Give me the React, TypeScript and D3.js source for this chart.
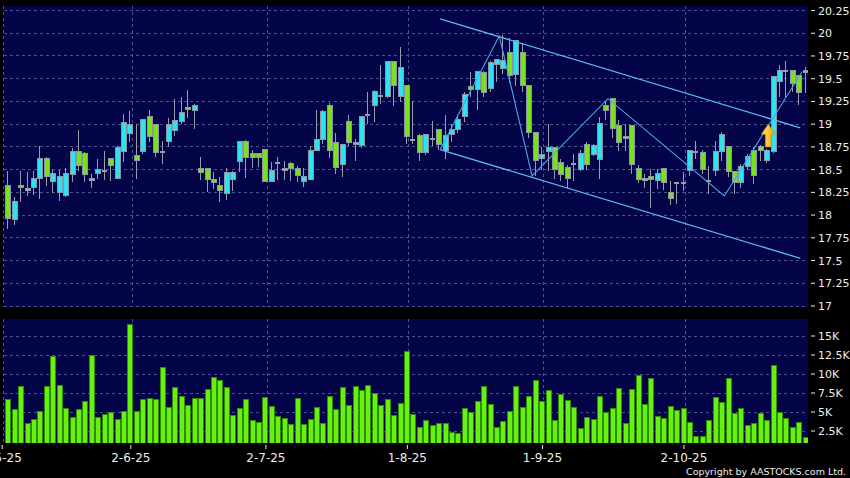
import React from 'react';
import * as d3 from 'd3';

// ---- data ----
const OPEN = [
  18.32, 17.95, 18.32, 18.27, 18.30, 18.40, 18.62, 18.37, 18.25, 18.22,
  18.45, 18.70, 18.68, 18.40, 18.46, 18.49, 18.62, 18.40, 18.70, 18.90,
  18.66, 18.70, 19.08, 19.00, 18.69, 18.81, 18.93, 19.03, 19.18, 19.155,
  18.515, 18.515, 18.39, 18.32, 18.24, 18.39, 18.59, 18.81, 18.68, 18.68,
  18.72, 18.37, 18.57, 18.49, 18.57, 18.51, 18.37, 18.39, 18.71, 18.835,
  19.20, 18.80, 18.56, 19.03, 18.80, 18.76, 19.10, 19.20, 19.31, 19.30,
  19.69, 19.30, 19.43, 18.83, 18.88, 18.69, 18.84, 18.94, 18.71, 18.89,
  18.94, 19.08, 19.41, 19.38, 19.57, 19.39, 19.66, 19.61, 19.79, 19.55,
  19.79, 19.43, 18.91, 18.62, 18.695, 18.746, 18.58, 18.52, 18.56, 18.50,
  18.78, 18.67, 18.61, 19.20, 19.28, 18.98, 18.86, 18.98, 18.51, 18.40,
  18.42, 18.38, 18.51, 18.25, 18.35, 18.35, 18.49, 18.695, 18.69, 18.38,
  18.49, 18.70, 18.75, 18.475, 18.36, 18.53, 18.71, 18.75, 18.60, 18.70,
  19.47, 19.59, 19.59, 19.53, 19.59,
];
const HIGH = [
  18.48, 18.20, 18.48, 18.47, 18.48, 18.76, 18.64, 18.50, 18.50, 18.52,
  18.74, 18.94, 18.69, 18.45, 18.62, 18.70, 18.62, 18.76, 19.11, 19.14,
  19.00, 19.05, 19.16, 19.00, 18.81, 19.07, 19.28, 19.30, 19.375, 19.22,
  18.64, 18.515, 18.47, 18.42, 18.52, 18.49, 18.81, 18.83, 18.72, 18.68,
  18.72, 18.58, 18.64, 18.60, 18.58, 18.54, 18.52, 18.76, 19.16, 19.16,
  19.23, 18.90, 18.78, 19.10, 18.84, 19.09, 19.35, 19.38, 19.65, 19.69,
  19.69, 19.85, 19.43, 19.25, 18.89, 18.89, 19.03, 18.94, 19.10, 19.00,
  19.10, 19.35, 19.57, 19.58, 19.58, 19.69, 19.72, 19.98, 19.945, 19.93,
  19.89, 19.43, 18.91, 18.75, 19.00, 18.75, 18.62, 18.55, 18.67, 18.72,
  18.80, 18.78, 19.08, 19.25, 19.28, 19.05, 19.00, 18.98, 18.55, 18.45,
  18.51, 18.51, 18.51, 18.38, 18.36, 18.47, 18.71, 18.82, 18.72, 18.54,
  18.82, 18.91, 18.75, 18.49, 18.56, 18.67, 18.75, 18.77, 18.73, 19.52,
  19.65, 19.69, 19.60, 19.53, 19.63,
];
const LOW = [
  17.85, 17.89, 18.14, 18.21, 18.22, 18.18, 18.32, 18.24, 18.15, 18.20,
  18.36, 18.49, 18.36, 18.30, 18.40, 18.39, 18.37, 18.40, 18.58, 18.80,
  18.40, 18.67, 18.80, 18.64, 18.56, 18.75, 18.87, 19.00, 19.07, 18.95,
  18.39, 18.25, 18.29, 18.14, 18.17, 18.27, 18.47, 18.41, 18.52, 18.53,
  18.36, 18.36, 18.39, 18.39, 18.37, 18.36, 18.31, 18.39, 18.71, 18.78,
  18.63, 18.45, 18.42, 18.76, 18.59, 18.74, 19.00, 19.02, 19.22, 19.29,
  19.20, 19.24, 18.78, 18.78, 18.59, 18.66, 18.76, 18.72, 18.62, 18.80,
  18.90, 19.02, 19.30, 19.16, 19.30, 19.35, 19.46, 19.55, 19.45, 19.42,
  19.35, 18.85, 18.43, 18.50, 18.49, 18.40, 18.37, 18.30, 18.38, 18.48,
  18.50, 18.65, 18.40, 19.05, 18.85, 18.70, 18.70, 18.45, 18.35, 18.30,
  18.08, 18.29, 18.28, 18.11, 18.12, 18.27, 18.43, 18.62, 18.45, 18.23,
  18.43, 18.60, 18.42, 18.23, 18.30, 18.50, 18.34, 18.60, 18.57, 18.68,
  19.30, 19.30, 19.35, 19.21, 19.34,
];
const CLOSE = [
  17.96, 18.15, 18.30, 18.29, 18.40, 18.62, 18.42, 18.46, 18.42, 18.46,
  18.70, 18.54, 18.45, 18.38, 18.50, 18.49, 18.54, 18.74, 19.02, 19.00,
  18.60, 19.05, 18.86, 18.69, 18.69, 19.00, 19.04, 19.125, 19.16, 19.20,
  18.47, 18.39, 18.36, 18.27, 18.47, 18.47, 18.81, 18.63, 18.63, 18.63,
  18.37, 18.49, 18.57, 18.51, 18.51, 18.44, 18.42, 18.71, 18.835, 19.14,
  18.71, 18.52, 18.78, 18.80, 18.78, 19.08, 19.10, 19.36, 19.31, 19.69,
  19.42, 19.625, 18.86, 18.83, 18.69, 18.89, 18.84, 18.78, 18.88, 18.94,
  19.05, 19.33, 19.38, 19.58, 19.35, 19.68, 19.71, 19.695, 19.53, 19.92,
  19.42, 18.91, 18.60, 18.67, 18.746, 18.496, 18.445, 18.40, 18.56, 18.68,
  18.56, 18.77, 19.01, 19.155, 18.95, 18.80, 18.84, 18.56, 18.39, 18.38,
  18.39, 18.456, 18.36, 18.18, 18.35, 18.35, 18.706, 18.695, 18.50, 18.38,
  18.695, 18.886, 18.475, 18.36, 18.53, 18.64, 18.43, 18.71, 18.71, 19.52,
  19.585, 19.59, 19.45, 19.35, 19.58,
];
const VOLUME = [
  6710, 5350, 8380, 3470, 3950, 5130, 8290, 12330, 8510, 5400,
  4260, 5270, 6320, 12420, 4340, 4610, 4870, 4040, 5050, 16450,
  5050, 6710, 6840, 6580, 10840, 5620, 8250, 6980, 5790, 6840,
  6760, 7990, 9520, 9080, 8160, 4560, 5490, 6580, 3860, 3560,
  6930, 5660, 4390, 4120, 3330, 6840, 3290, 4040, 5620, 3510,
  6980, 5350, 8160, 5840, 8380, 7770, 8470, 7370, 5790, 6580,
  4480, 6140, 12900, 4610, 2990, 3860, 3160, 3510, 3510, 2330,
  2110, 5490, 4910, 6360, 8420, 6010, 2940, 3690, 5130, 8380,
  5570, 7020, 9170, 6410, 7810, 3860, 7330, 6450, 5620, 2850,
  4300, 4040, 7020, 4960, 5400, 8070, 3510, 7900, 9830, 6010,
  9350, 4430, 4120, 5700, 5180, 5490, 3640, 1840, 1800, 3910,
  6890, 6230, 9430, 4780, 5490, 3160, 3510, 4830, 3910, 11100,
  4910, 4080, 2900, 3640, 1620,
];
const PRICE_TICKS = [17, 17.25, 17.5, 17.75, 18, 18.25, 18.5, 18.75, 19, 19.25, 19.5, 19.75, 20, 20.25];
const VOLUME_TICKS = [2500, 5000, 7500, 10000, 12500, 15000];
const VOLUME_TICK_LABELS = ['2.5K', '5K', '7.5K', '10K', '12.5K', '15K'];
const DATE_TICK_INDEX = [-1, 19, 40, 62, 83, 105];
const DATE_TICK_LABELS = ['2-5-25', '2-6-25', '2-7-25', '1-8-25', '1-9-25', '2-10-25'];
// trend lines: [index, price]
const CHANNEL_UPPER: [number, number][] = [[67.3, 20.158], [123.3, 18.96]];
const CHANNEL_LOWER: [number, number][] = [[67.3, 18.72], [123.3, 17.525]];
const ZIGZAG: [number, number][] = [
  [67.3, 18.72], [76.5, 19.97], [81.6, 18.43], [93.4, 19.28], [111.5, 18.21], [123.6, 19.58],
];
const SIGNAL_ARROW = { index: 118.33, top: 19.0, base: 18.75 };

// ---- layout ----
const W = 850;
const H = 478;
const LEFT = 4;
const RIGHT = 808;
const P_TOP = 6;
const P_BOT = 307;
const V_TOP = 319;
const V_BOT = 443;

const NAVY = '#020447';
const GRID = '#4b5391';
const CYAN = '#2ce4f0';
const LIME = '#78e21c';
const WICK = '#979daa';
const EDGE = '#8c96a6';
const LINE = '#5cb8f2';
const TEXT = '#ececec';

export default function App() {
  const n = OPEN.length;
  const x = d3.scaleLinear().domain([-0.5, n - 0.5]).range([LEFT, RIGHT]);
  const yP = d3.scaleLinear().domain([17, 20.25]).range([306, 10.5]);
  const yV = d3.scaleLinear().domain([0, 15000]).range([450, 336]);
  const bodyW = 5;
  const volW = 5;
  const line = d3.line<[number, number]>().x((d) => x(d[0])).y((d) => yP(d[1]));

  const gridXs = DATE_TICK_INDEX.map((i) => x(i + 0.45));

  const ax = x(SIGNAL_ARROW.index);
  const aTop = yP(SIGNAL_ARROW.top);
  const aBase = yP(SIGNAL_ARROW.base);
  const headH = 10;
  const arrowPath = `M${ax},${aTop} L${ax + 7},${aTop + headH} L${ax + 3},${aTop + headH} L${ax + 3},${aBase} L${ax - 3},${aBase} L${ax - 3},${aTop + headH} L${ax - 7},${aTop + headH} Z`;

  return (
    <svg
      width={W}
      height={H}
      style={{ position: 'absolute', left: 0, top: 0, display: 'block' }}
      fontFamily="'DejaVu Sans', Verdana, sans-serif"
    >
      <defs>
        <clipPath id="pclip">
          <rect x={LEFT} y={P_TOP} width={RIGHT - LEFT} height={P_BOT - P_TOP} />
        </clipPath>
        <clipPath id="vclip">
          <rect x={LEFT} y={V_TOP} width={RIGHT - LEFT} height={V_BOT - V_TOP} />
        </clipPath>
        <linearGradient id="arrowGrad" x1="0" y1="0" x2="1" y2="0">
          <stop offset="0" stopColor="#ffe37a" />
          <stop offset="0.5" stopColor="#ffc531" />
          <stop offset="1" stopColor="#e29a12" />
        </linearGradient>
      </defs>
      <rect x={0} y={0} width={W} height={H} fill="#000" />
      <rect x={LEFT} y={P_TOP} width={RIGHT - LEFT} height={P_BOT - P_TOP} fill={NAVY} />
      <rect x={LEFT} y={V_TOP} width={RIGHT - LEFT} height={V_BOT - V_TOP} fill={NAVY} />

      {/* price grid */}
      <g stroke={GRID} strokeWidth={1} strokeDasharray="3,3" shapeRendering="crispEdges">
        {PRICE_TICKS.map((t) => (
          <line key={'pg' + t} x1={LEFT} x2={RIGHT} y1={yP(t)} y2={yP(t)} />
        ))}
        {VOLUME_TICKS.map((t) => (
          <line key={'vg' + t} x1={LEFT} x2={RIGHT} y1={yV(t)} y2={yV(t)} />
        ))}
        {gridXs.map((gx, k) => (
          <g key={'xg' + k}>
            <line x1={gx} x2={gx} y1={P_TOP} y2={P_BOT} />
            <line x1={gx} x2={gx} y1={V_TOP} y2={V_BOT} />
          </g>
        ))}
      </g>

      {/* candles */}
      <g clipPath="url(#pclip)" shapeRendering="crispEdges">
        {OPEN.map((o, i) => {
          const c = CLOSE[i];
          const cx = Math.round(x(i));
          const up = c > o;
          const flat = Math.abs(c - o) < 0.004;
          const yt = yP(Math.max(o, c));
          const yb = yP(Math.min(o, c));
          return (
            <g key={'c' + i}>
              <line x1={cx + 0.5} x2={cx + 0.5} y1={yP(HIGH[i])} y2={yP(LOW[i])} stroke={WICK} strokeWidth={1} />
              {flat ? (
                <rect x={cx - 2} y={yt - 1} width={bodyW} height={2} fill={WICK} />
              ) : (
                <rect
                  x={cx - 2}
                  y={yt}
                  width={bodyW}
                  height={Math.max(1.5, yb - yt)}
                  fill={up ? CYAN : LIME}
                  stroke={EDGE}
                  strokeWidth={1}
                />
              )}
            </g>
          );
        })}
      </g>

      {/* trend lines */}
      <g clipPath="url(#pclip)" fill="none">
        <path d={line(CHANNEL_UPPER) || ''} stroke={LINE} strokeWidth={1.3} />
        <path d={line(CHANNEL_LOWER) || ''} stroke={LINE} strokeWidth={1.3} />
        <path d={line(ZIGZAG) || ''} stroke="#4aa6e6" strokeWidth={1.1} />
      </g>

      {/* signal arrow */}
      <path d={arrowPath} fill="url(#arrowGrad)" stroke="#c98a10" strokeWidth={0.6} />

      {/* volume */}
      <g clipPath="url(#vclip)" shapeRendering="crispEdges">
        {VOLUME.map((v, i) => {
          const cx = Math.round(x(i));
          const top = yV(v);
          return (
            <rect
              key={'v' + i}
              x={cx - 2}
              y={top}
              width={volW}
              height={V_BOT - top}
              fill="#66f20e"
              stroke="#2f8a05"
              strokeWidth={1}
            />
          );
        })}
      </g>

      {/* price axis */}
      <g fill={TEXT} fontSize={11}>
        {PRICE_TICKS.map((t) => (
          <g key={'pl' + t}>
            <line x1={811} x2={815} y1={yP(t)} y2={yP(t)} stroke={TEXT} strokeWidth={1} />
            <text x={818} y={yP(t) + 4}>{String(t)}</text>
          </g>
        ))}
        {VOLUME_TICKS.map((t, k) => (
          <g key={'vl' + t}>
            <line x1={811} x2={815} y1={yV(t)} y2={yV(t)} stroke={TEXT} strokeWidth={1} />
            <text x={818} y={yV(t) + 4}>{VOLUME_TICK_LABELS[k]}</text>
          </g>
        ))}
      </g>

      {/* date axis */}
      <g fill={TEXT} fontSize={12}>
        {DATE_TICK_LABELS.map((lab, k) => {
          const gx = gridXs[k] - 1.5;
          return (
            <g key={'dl' + k}>
              <line x1={gx} x2={gx} y1={445} y2={449} stroke={TEXT} strokeWidth={1} />
              <text x={gx} y={462} textAnchor="middle">{lab}</text>
            </g>
          );
        })}
      </g>

      <text x={846} y={475} textAnchor="end" fill={TEXT} fontSize={9.5}>
        Copyright by AASTOCKS.com Ltd.
      </text>
    </svg>
  );
}
